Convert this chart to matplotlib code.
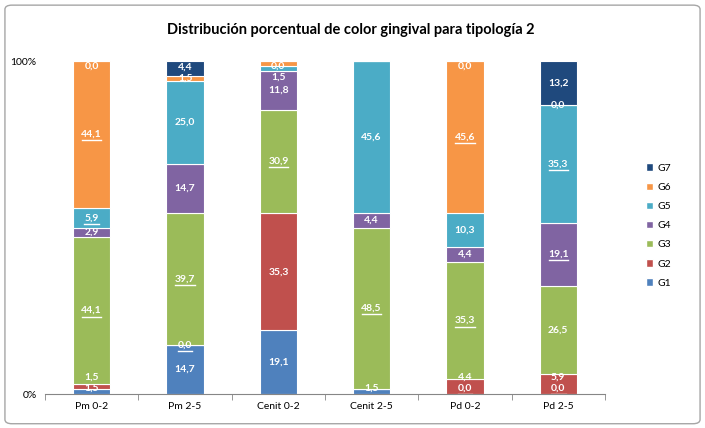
import matplotlib
matplotlib.use('Agg')
from matplotlib import pyplot
from matplotlib.patches import Patch, FancyBboxPatch
import numpy as np

pyplot.rcParams['font.family'] = ['Lato', 'DejaVu Sans']

categorias = ['Pm 0-2', 'Pm 2-5', 'Cenit 0-2', 'Cenit 2-5', 'Pd 0-2', 'Pd 2-5']
series = ['G1', 'G2', 'G3', 'G4', 'G5', 'G6', 'G7']
colores = ['#4F81BD', '#C0504D', '#9BBB59', '#8064A2', '#4BACC6', '#F79646', '#1F497D']

g1 = [1.5, 14.7, 19.1, 1.5, 0.0, 0.0]
g2 = [1.5, 0.0, 35.3, 0.0, 4.4, 5.9]
g3 = [44.1, 39.7, 30.9, 48.5, 35.3, 26.5]
g4 = [2.9, 14.7, 11.8, 4.4, 4.4, 19.1]
g5 = [5.9, 25.0, 1.5, 45.6, 10.3, 35.3]
g6 = [44.1, 1.5, 1.4, 0.0, 45.6, 0.0]
g7 = [0.0, 4.4, 0.0, 0.0, 0.0, 13.2]
valores = [g1, g2, g3, g4, g5, g6, g7]

# etiquetas subrayadas y ocultas (indice barra, indice serie)
subrayadas = {(0, 2), (0, 4), (0, 5), (1, 1), (1, 2), (2, 2),
              (3, 2), (4, 0), (4, 2), (4, 5), (5, 0), (5, 3), (5, 4)}
ocultas = {(2, 5), (3, 1), (3, 5), (3, 6)}

fig = pyplot.figure(figsize=(7.05, 4.28), dpi=100)
fig.patches.append(FancyBboxPatch((0.007, 0.01), 0.986, 0.978, boxstyle='round,pad=0,rounding_size=0.01',
                                  transform=fig.transFigure, facecolor='none', edgecolor='#A6A6A6', linewidth=1.0))
ax = fig.add_axes([0.064, 0.0794, 0.794, 0.778])

x = np.arange(len(categorias))
fondo = np.zeros(len(categorias))
for vals, col in zip(valores, colores):
    ax.bar(x, vals, bottom=fondo, width=0.4, color=col, edgecolor='white', linewidth=0.8)
    fondo = fondo + np.array(vals)

gap = 3.3
for i in range(len(categorias)):
    base = 0.0
    pos = []
    for s in range(len(series)):
        v = valores[s][i]
        if (i, s) not in ocultas:
            pos.append([s, base + v / 2])
        base += v
    # separar etiquetas que se pisan
    ultimo = 1.8 - gap
    for p in pos:
        p[1] = max(p[1], ultimo + gap)
        ultimo = p[1]
    tope = 98.5 + gap
    for p in reversed(pos):
        p[1] = min(p[1], tope - gap)
        tope = p[1]
    for s, y in pos:
        texto = ('%.1f' % valores[s][i]).replace('.', ',')
        ax.text(x[i], y, texto, ha='center', va='center', color='white',
                fontsize=7.5, fontweight='bold', zorder=5)
        if (i, s) in subrayadas:
            w = 0.052 * len(texto)
            ax.plot([x[i] - w / 2, x[i] + w / 2], [y - 1.8, y - 1.8], color='white', linewidth=1.0, zorder=5)

ax.set_xlim(-0.5, len(categorias) - 0.5)
ax.set_ylim(0, 100)
ax.set_yticks([0, 100])
ax.set_yticklabels(['0%', '100%'], fontsize=7.5)
ax.set_xticks(x)
ax.set_xticklabels(categorias, fontsize=7.5)
ax.set_xticks(np.arange(-0.5, len(categorias)), minor=True)
ax.tick_params(axis='x', which='major', length=0, pad=6)
ax.tick_params(axis='x', which='minor', length=4, color='#868686')
ax.tick_params(axis='y', length=0, pad=6)
for lado in ['top', 'right', 'left']:
    ax.spines[lado].set_visible(False)
ax.spines['bottom'].set_color('#868686')

fig.text(0.497, 0.93, 'Distribución porcentual de color gingival para tipología 2',
         ha='center', va='center', fontsize=10.5, fontweight='bold')

handles = [Patch(facecolor=c, edgecolor='white') for c in colores][::-1]
fig.legend(handles, series[::-1], loc='center left', bbox_to_anchor=(0.903, 0.473), frameon=False,
           fontsize=7.5, handlelength=0.7, handleheight=0.7, handletextpad=0.4, labelspacing=0.95)

pyplot.savefig('out.png', dpi=100)
